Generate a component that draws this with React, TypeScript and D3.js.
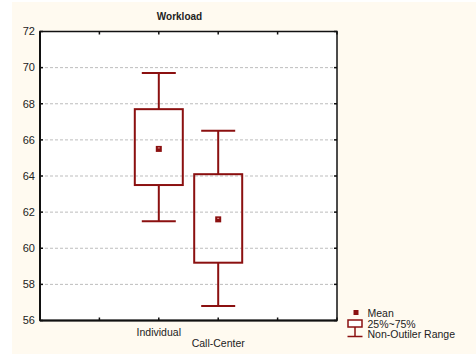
import React from 'react';
import * as d3 from 'd3';

// Workload box plot data
const categories = ['Individual', 'Call-Center'];
const means = [65.5, 61.6];
const q1 = [63.5, 59.2];
const q3 = [67.7, 64.1];
const whiskerLow = [61.5, 56.8];
const whiskerHigh = [69.7, 66.5];
const yTicks = [56, 58, 60, 62, 64, 66, 68, 70, 72];
const legendLabels = ['Mean', '25%~75%', 'Non-Outiler Range'];

const W = 476;
const H = 354;
const margin = { top: 31.5, right: 139, bottom: 33.5, left: 40 };
const color = '#8b1010';
const font = '"Liberation Sans", Arial, sans-serif';

const App = () => {
  const innerW = W - margin.left - margin.right;
  const innerH = H - margin.top - margin.bottom;

  const y = d3.scaleLinear().domain([56, 72]).range([innerH, 0]);
  // 6 slots on the x axis, categories sit on ticks 3 and 4
  const xTick = d3.scaleLinear().domain([0, 5]).range([0, innerW]);
  const xPos = (i: number) => xTick(i + 2);
  const boxHalf = 24;
  const capHalf = 17;

  return (
    <svg width={W} height={H} style={{ position: 'absolute', left: 0, top: 0, display: 'block' }}>
      <rect x={12} y={2} width={W - 12} height={H - 2} fill="#fffaf0" />
      <g transform={`translate(${margin.left},${margin.top})`}>
        <rect x={0} y={0} width={innerW} height={innerH} fill="#fff" />
        {/* gridlines */}
        {yTicks.slice(1, -1).map(t => (
          <line key={t} x1={0} x2={innerW} y1={y(t)} y2={y(t)}
            stroke="#bdbdbd" strokeWidth={1} strokeDasharray="3,2" />
        ))}
        {/* boxes */}
        {categories.map((c, i) => {
          const cx = xPos(i);
          return (
            <g key={c} stroke={color} strokeWidth={2} fill="none">
              <line x1={cx} x2={cx} y1={y(whiskerHigh[i])} y2={y(q3[i])} />
              <line x1={cx} x2={cx} y1={y(q1[i])} y2={y(whiskerLow[i])} />
              <line x1={cx - capHalf} x2={cx + capHalf} y1={y(whiskerHigh[i])} y2={y(whiskerHigh[i])} />
              <line x1={cx - capHalf} x2={cx + capHalf} y1={y(whiskerLow[i])} y2={y(whiskerLow[i])} />
              <rect x={cx - boxHalf} y={y(q3[i])} width={boxHalf * 2} height={y(q1[i]) - y(q3[i])} />
              <rect x={cx - 3} y={y(means[i]) - 3} width={6} height={6} fill={color} stroke="none" />
              <rect x={cx - 1} y={y(means[i]) - 1.5} width={2} height={1} fill="#e0a0a0" stroke="none" />
            </g>
          );
        })}
        {/* frame */}
        <rect x={0} y={0} width={innerW} height={innerH} fill="none" stroke="#111" strokeWidth={1.5} />
        <line x1={0} x2={0} y1={0} y2={innerH} stroke="#111" strokeWidth={2} />
        <line x1={0} x2={innerW} y1={innerH} y2={innerH} stroke="#111" strokeWidth={2} />
        {/* ticks */}
        {yTicks.map(t => (
          <g key={t}>
            <line x1={0} x2={3} y1={y(t)} y2={y(t)} stroke="#111" strokeWidth={1.5} />
            <line x1={innerW - 3} x2={innerW} y1={y(t)} y2={y(t)} stroke="#111" strokeWidth={1.5} />
            <text x={-5} y={y(t)} dy="0.35em" textAnchor="end" fontFamily={font} fontSize={11} fill="#222">{t}</text>
          </g>
        ))}
        {d3.range(6).map(i => (
          <g key={i}>
            <line x1={xTick(i)} x2={xTick(i)} y1={0} y2={3} stroke="#111" strokeWidth={1.5} />
            <line x1={xTick(i)} x2={xTick(i)} y1={innerH - 3} y2={innerH} stroke="#111" strokeWidth={1.5} />
          </g>
        ))}
        {categories.map((c, i) => (
          <text key={c} x={xPos(i)} y={innerH + 15 + i * 11} textAnchor="middle"
            fontFamily={font} fontSize={10.5} fill="#222">{c}</text>
        ))}
      </g>
      <text x={179.5} y={19.5} textAnchor="middle" fontFamily={font} fontSize={10} fontWeight="bold" fill="#222">Workload</text>
      {/* legend */}
      <g>
        <rect x={353.5} y={310} width={5} height={5} fill={color} />
        <rect x={348} y={320} width={14} height={7} fill="#fff" stroke={color} strokeWidth={1.5} />
        <line x1={355} x2={355} y1={327} y2={336.5} stroke={color} strokeWidth={1.5} />
        <line x1={347.5} x2={362.5} y1={336.5} y2={336.5} stroke={color} strokeWidth={1.5} />
        {legendLabels.map((l, i) => (
          <text key={l} x={367.5} y={317 + i * 10.7} fontFamily={font} fontSize={10.5} fill="#222">{l}</text>
        ))}
      </g>
    </svg>
  );
};

export default App;
